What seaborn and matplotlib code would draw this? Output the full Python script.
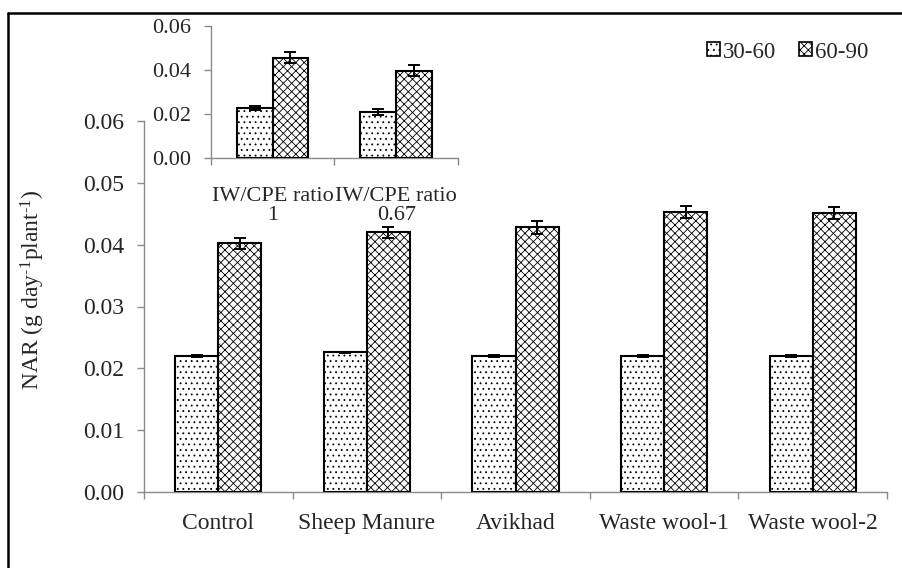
import numpy as np
import pandas as pd
import matplotlib
matplotlib.use("Agg")
import matplotlib.pyplot as plt
from matplotlib.patches import Patch
from matplotlib.lines import Line2D
import seaborn as sns

# Net assimilation rate by organic amendment and growth period
treatments = ["Control", "Sheep Manure", "Avikhad", "Waste wool-1", "Waste wool-2"]
periods = ["30-60", "60-90"]
nar_30_60 = [0.0220, 0.0226, 0.0220, 0.0220, 0.0220]
err_30_60 = [0.0002, 0.0001, 0.0002, 0.0001, 0.0001]
nar_60_90 = [0.0402, 0.0420, 0.0428, 0.0453, 0.0451]
err_60_90 = [0.0009, 0.0009, 0.0010, 0.0010, 0.0010]

# Irrigation regime (IW/CPE ratio)
ratios = ["IW/CPE ratio\n1", "IW/CPE ratio\n0.67"]
ratio_30_60 = [0.0227, 0.0210]
ratio_err_30_60 = [0.0010, 0.0012]
ratio_60_90 = [0.0456, 0.0397]
ratio_err_60_90 = [0.0024, 0.0024]

main_ticks = [0.00, 0.01, 0.02, 0.03, 0.04, 0.05, 0.06]
inset_ticks = [0.00, 0.02, 0.04, 0.06]

hatches = {"30-60": "...", "60-90": "xxxx"}

sns.set_theme(style="white")
plt.rcParams["font.family"] = ["Liberation Serif", "DejaVu Serif"]
plt.rcParams["mathtext.fontset"] = "custom"
plt.rcParams["mathtext.rm"] = "Liberation Serif"
plt.rcParams["mathtext.it"] = "Liberation Serif:italic"
plt.rcParams["hatch.linewidth"] = 0.6
plt.rcParams["hatch.color"] = "black"

AXIS_GREY = "#8a8a8a"

fig = plt.figure(figsize=(9.03, 5.68), dpi=100)
fig.patch.set_facecolor("white")


def grouped_bars(ax, cats, v1, e1, v2, e2, capsize):
    df = pd.DataFrame({
        "cat": cats * 2,
        "Period": [periods[0]] * len(cats) + [periods[1]] * len(cats),
        "value": v1 + v2,
    })
    sns.barplot(data=df, x="cat", y="value", hue="Period", order=cats,
                hue_order=periods, palette=["white", "white"], saturation=1,
                edgecolor="black", linewidth=1.5, width=0.58,
                errorbar=None, legend=False, ax=ax)
    for container, period, errs in zip(ax.containers, periods, [e1, e2]):
        for bar, err in zip(container, errs):
            bar.set_hatch(hatches[period])
            bar.set_zorder(2)
            cx = bar.get_x() + bar.get_width() / 2
            ax.errorbar(cx, bar.get_height(), yerr=err, color="black",
                        elinewidth=1.4, capsize=capsize, capthick=1.4,
                        zorder=3)
    n = len(cats)
    ax.set_xlim(-0.5, n - 0.5)
    ax.set_xticks(np.arange(n))
    ax.set_xticks(np.arange(n + 1) - 0.5, minor=True)
    ax.set_xlabel("")
    ax.set_ylabel("")
    for side in ("top", "right"):
        ax.spines[side].set_visible(False)
    for side in ("left", "bottom"):
        ax.spines[side].set_color(AXIS_GREY)
        ax.spines[side].set_linewidth(1.0)
        ax.spines[side].set_zorder(1)
    ax.tick_params(axis="x", which="major", length=0)
    ax.tick_params(axis="x", which="minor", bottom=True, length=5,
                   width=1.0, color=AXIS_GREY)
    ax.tick_params(axis="y", left=True, length=5, width=1.0,
                   color=AXIS_GREY, pad=9)


# Main chart
ax = fig.add_axes([144 / 903, 1 - 492 / 568, 743 / 903, 371 / 568])
grouped_bars(ax, treatments, nar_30_60, err_30_60, nar_60_90, err_60_90, 4.5)
ax.set_ylim(0, 0.06)
ax.set_yticks(main_ticks)
ax.set_yticklabels([f"{t:.2f}" for t in main_ticks], fontsize=17)
ax.set_xticklabels(treatments, fontsize=17)
ax.tick_params(axis="x", which="major", pad=15)
ax.patch.set_alpha(0)
fig.text(33 / 903, 1 - 290 / 568,
         r"NAR (g day$^{\mathregular{\text{-}1}}$plant$^{\mathregular{\text{-}1}}$)",
         rotation=90, ha="center", va="center", fontsize=17)

# Inset: irrigation regime
ins = fig.add_axes([210.7 / 903, 1 - 158.3 / 568, 247.3 / 903, 132.3 / 568])
grouped_bars(ins, ratios, ratio_30_60, ratio_err_30_60,
             ratio_60_90, ratio_err_60_90, 4)
ins.set_ylim(0, 0.06)
ins.set_yticks(inset_ticks)
ins.set_yticklabels([f"{t:.2f}" for t in inset_ticks], fontsize=16)
ins.set_xticklabels(ratios, fontsize=16, linespacing=0.95)
ins.tick_params(axis="x", which="major", pad=21)
ins.patch.set_alpha(0)

# Legend
handles = [Patch(facecolor="white", edgecolor="black", linewidth=1.2,
                 hatch=hatches[p]) for p in periods]
fig.legend(handles, periods, loc="center right",
           bbox_to_anchor=(880 / 903, 1 - 52 / 568), ncol=2, frameon=False,
           fontsize=16.5, handlelength=0.55, handleheight=0.55,
           handletextpad=0.15, columnspacing=1.0, borderpad=0)

# Outer frame (top and left edges)
fig.add_artist(Line2D([8 / 903, 8 / 903], [-0.05, 1 - 13 / 568],
                      transform=fig.transFigure, color="black", lw=1.8))
fig.add_artist(Line2D([8 / 903, 1.05], [1 - 13 / 568, 1 - 13 / 568],
                      transform=fig.transFigure, color="black", lw=1.8))

fig.savefig("out.png", dpi=100, facecolor="white")
